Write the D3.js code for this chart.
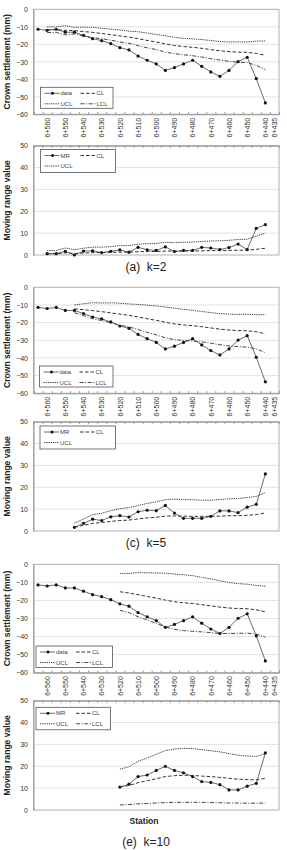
<!DOCTYPE html>
<html>
<head>
<meta charset="utf-8">
<script src="https://cdn.jsdelivr.net/npm/d3@7"></script>
<style>
	body { margin: 0; background: #fff; }
	svg { display: block; font-family: "Liberation Sans", Arial, sans-serif; }
</style>
</head>
<body>
<svg id="chart" width="287" height="850"></svg>
<script>
// stations along the tunnel, every 5 m, only some get a label
var stationLabels = ['', '6+560', '', '6+550', '', '6+540', '', '6+530', '', '6+520', '', '6+510', '',
	'6+500', '', '6+490', '', '6+480', '', '6+470', '', '6+460', '', '6+450', '', '6+440', '6+435'];

// measured crown settlement (mm), first 26 stations
var settlement = [-11.4, -12.0, -11.4, -13.1, -13.1, -14.9, -16.8, -17.9, -19.6, -21.9, -23.2, -26.7, -29.1,
	-31.2, -34.9, -33.3, -31.2, -29.1, -32.6, -35.8, -38.3, -34.9, -29.9, -27.4, -39.6, -53.5];

// k = 2 (series start at station index 1)
var cl2 = [-11.7, -11.6, -12.0, -12.2, -12.7, -13.2, -13.8, -14.5, -15.2, -15.9, -16.8, -17.8, -18.7,
	-19.8, -20.7, -21.3, -21.7, -22.3, -23.0, -23.7, -24.2, -24.5, -24.6, -25.2, -26.3];
var ucl2 = [-10.1, -10.0, -9.4, -10.3, -10.2, -10.3, -10.9, -11.3, -11.8, -12.5, -12.8, -13.6, -14.4,
	-15.1, -16.0, -16.6, -16.9, -17.3, -17.8, -18.4, -18.7, -18.6, -18.7, -18.2, -18.1];
var lcl2 = [-13.3, -13.2, -14.6, -14.1, -15.2, -16.2, -16.8, -17.6, -18.7, -19.4, -20.8, -22.0, -23.0,
	-24.5, -25.3, -26.0, -26.5, -27.3, -28.2, -29.0, -29.7, -30.3, -30.4, -32.1, -34.4];
var mr2 = [0.6, 0.6, 1.7, 0.0, 1.8, 1.9, 1.1, 1.7, 2.3, 1.3, 3.5, 2.4, 2.1, 3.7, 1.6, 2.1, 2.1, 3.5, 3.2,
	2.5, 3.4, 5.0, 2.5, 12.2, 13.9];
var mrCl2 = [0.6, 0.6, 1.0, 0.7, 0.9, 1.1, 1.1, 1.2, 1.3, 1.3, 1.5, 1.6, 1.6, 1.8, 1.8, 1.8, 1.8, 1.9, 2.0,
	2.0, 2.1, 2.2, 2.2, 2.6, 3.1];
var mrUcl2 = [2.0, 2.0, 3.2, 2.4, 3.1, 3.6, 3.6, 3.8, 4.3, 4.3, 4.9, 5.2, 5.3, 5.8, 5.7, 5.8, 5.9, 6.2, 6.4,
	6.5, 6.7, 7.1, 7.2, 8.6, 10.0];

// k = 5 (start at index 4)
var cl5 = [-12.2, -12.7, -13.2, -13.8, -14.5, -15.2, -15.9, -16.8, -17.8, -18.7, -19.8, -20.7, -21.3,
	-21.7, -22.3, -23.0, -23.7, -24.2, -24.5, -24.6, -25.2, -26.3];
var ucl5 = [-10.0, -9.3, -8.7, -8.9, -8.8, -9.0, -9.4, -9.7, -10.1, -10.6, -11.1, -11.8, -12.5, -13.0,
	-13.7, -14.3, -14.9, -15.2, -15.4, -15.2, -15.5, -15.5];
var lcl5 = [-14.4, -16.0, -17.8, -18.8, -20.1, -21.4, -22.4, -23.9, -25.5, -26.9, -28.6, -29.6, -30.1,
	-30.4, -30.9, -31.6, -32.5, -33.2, -33.5, -33.9, -34.8, -37.0];
var mr5 = [1.7, 3.5, 5.4, 4.8, 6.5, 7.0, 6.4, 8.8, 9.5, 9.3, 11.7, 8.2, 5.8, 5.8, 5.8, 6.7, 9.2, 9.2, 8.4,
	10.9, 12.2, 26.1];
var mrCl5 = [1.7, 2.6, 3.5, 3.9, 4.4, 4.8, 5.0, 5.5, 6.0, 6.3, 6.8, 6.9, 6.8, 6.7, 6.7, 6.7, 6.8, 7.0, 7.0,
	7.2, 7.5, 8.3];
var mrUcl5 = [3.6, 5.5, 7.5, 8.1, 9.3, 10.2, 10.7, 11.7, 12.6, 13.3, 14.3, 14.6, 14.4, 14.3, 14.1, 14.1,
	14.4, 14.7, 14.9, 15.3, 15.8, 17.6];

// k = 10 (start at index 9)
var cl10 = [-15.2, -15.9, -16.8, -17.8, -18.7, -19.8, -20.7, -21.3, -21.7, -22.3, -23.0, -23.7, -24.2,
	-24.5, -24.6, -25.2, -26.3];
var ucl10 = [-5.0, -5.1, -4.6, -4.7, -4.8, -4.9, -5.4, -5.8, -6.3, -7.2, -8.1, -9.1, -10.1, -10.7, -11.0,
	-11.7, -12.1];
var lcl10 = [-25.4, -26.8, -29.0, -30.8, -32.7, -34.7, -36.0, -36.7, -37.1, -37.4, -37.8, -38.3, -38.3,
	-38.2, -38.1, -38.6, -40.4];
var mr10 = [10.5, 11.8, 15.3, 16.0, 18.1, 20.0, 18.1, 17.0, 15.3, 13.0, 12.6, 11.6, 9.2, 9.2, 10.9, 12.2, 26.1];
var mrCl10 = [10.5, 11.2, 12.5, 13.4, 14.3, 15.3, 15.7, 15.9, 15.8, 15.5, 15.3, 14.9, 14.5, 14.1, 13.9,
	13.8, 14.5];
var mrUcl10 = [18.7, 19.8, 22.3, 23.8, 25.5, 27.2, 27.9, 28.2, 28.1, 27.6, 27.1, 26.6, 25.8, 25.1, 24.7,
	24.5, 25.8];
var mrLcl10 = [2.3, 2.5, 2.8, 3.0, 3.2, 3.4, 3.5, 3.5, 3.5, 3.5, 3.4, 3.3, 3.2, 3.2, 3.1, 3.1, 3.2];

var crownTicks = [0, -10, -20, -30, -40, -50, -60];
var mrTicks = [0, 10, 20, 30, 40, 50];

var styles = {
	data: { stroke: '#6b6b6b', dash: null, marker: true },
	CL: { stroke: '#333', dash: '3.5,2' },
	UCL: { stroke: '#444', dash: '1.3,0.9' },
	LCL: { stroke: '#444', dash: '4,1.6,1,1.6' }
};

var svg = d3.select('#chart');
var left = 33.5, right = 279;

var x = d3.scaleLinear()
	.domain([0, stationLabels.length])
	.range([left, right]);

var drawPanel = function (p) {
	var y = d3.scaleLinear()
		.domain(p.domain)
		.range([p.top, p.bottom]);
	var g = svg.append('g');

	// gridlines
	g.selectAll('line.grid')
		.data(p.ticks.slice(1))
		.enter().append('line')
		.attr('x1', left).attr('x2', right)
		.attr('y1', function (d) { return y(d); })
		.attr('y2', function (d) { return y(d); })
		.attr('stroke', '#dcdcdc')
		.attr('stroke-width', 0.8);

	// frame
	g.append('rect')
		.attr('x', left).attr('y', p.top)
		.attr('width', right - left).attr('height', p.bottom - p.top)
		.attr('fill', 'none')
		.attr('stroke', '#a8a8a8')
		.attr('stroke-width', 0.9);

	// y axis
	var yAxis = g.append('g')
		.attr('transform', 'translate(' + left + ',0)')
		.call(d3.axisLeft(y).tickValues(p.ticks).tickSize(0).tickPadding(5.5));
	yAxis.select('.domain').attr('stroke', '#999');
	yAxis.selectAll('text')
		.attr('fill', '#333')
		.style('font-size', '7px');

	// category ticks at boundaries, inside the frame
	var axisY = p.kind === 'crown' ? p.bottom : p.top;
	var tickAxis = p.kind === 'crown' ? d3.axisTop(x) : d3.axisBottom(x);
	var ticksG = g.append('g')
		.attr('transform', 'translate(0,' + axisY + ')')
		.call(tickAxis.tickValues(d3.range(stationLabels.length + 1)).tickSize(2.2).tickFormat(''));
	ticksG.select('.domain').attr('stroke', '#999');
	ticksG.selectAll('.tick line').attr('stroke', '#999');

	if (p.kind === 'crown') {
		var labelsG = g.append('g')
			.attr('transform', 'translate(0,' + p.bottom + ')')
			.call(d3.axisBottom(x)
				.tickValues(d3.range(stationLabels.length).map(function (i) { return i + 0.5; }))
				.tickSize(0)
				.tickFormat(function (d) { return stationLabels[d - 0.5]; }));
		labelsG.select('.domain').remove();
		labelsG.selectAll('text')
			.attr('transform', 'rotate(-90)')
			.attr('x', -3.5)
			.attr('y', 0)
			.attr('dy', '0.32em')
			.attr('text-anchor', 'end')
			.attr('fill', '#333')
			.style('font-size', '7px');
	}

	// series
	p.series.forEach(function (s) {
		var st = styles[s.style];
		var line = d3.line()
			.x(function (d, i) { return x(s.start + i + 0.5); })
			.y(function (d) { return y(d); });
		g.append('path')
			.datum(s.values)
			.attr('d', line)
			.attr('fill', 'none')
			.attr('stroke', st.stroke)
			.attr('stroke-width', 1)
			.attr('stroke-dasharray', st.dash);
		if (st.marker) {
			g.selectAll(null)
				.data(s.values)
				.enter().append('circle')
				.attr('cx', function (d, i) { return x(s.start + i + 0.5); })
				.attr('cy', function (d) { return y(d); })
				.attr('r', 1.6)
				.attr('fill', '#111');
		}
	});

	// legend
	var lg = g.append('g')
		.attr('transform', 'translate(' + p.legend[0] + ',' + p.legend[1] + ')');
	lg.append('rect')
		.attr('width', p.legend[2]).attr('height', p.legend[3])
		.attr('fill', '#fff')
		.attr('stroke', '#555')
		.attr('stroke-width', 0.8);
	p.series.forEach(function (s, i) {
		var st = styles[s.style];
		var col = i % 2, row = Math.floor(i / 2);
		var lx = col === 0 ? 4 : 40;
		var ly = row === 0 ? 6 : 16.5;
		lg.append('line')
			.attr('x1', lx).attr('x2', lx + 15)
			.attr('y1', ly).attr('y2', ly)
			.attr('stroke', st.stroke)
			.attr('stroke-width', 1)
			.attr('stroke-dasharray', st.dash);
		if (st.marker) {
			lg.append('circle')
				.attr('cx', lx + 8).attr('cy', ly).attr('r', 1.5)
				.attr('fill', '#111');
		}
		lg.append('text')
			.attr('x', lx + 16)
			.attr('y', ly)
			.attr('dy', '0.35em')
			.attr('fill', '#444')
			.style('font-size', '6px')
			.text(s.name);
	});

	// axis title
	svg.append('text')
		.attr('transform', 'translate(10,' + ((p.top + p.bottom) / 2) + ') rotate(-90)')
		.attr('text-anchor', 'middle')
		.attr('font-weight', 'bold')
		.attr('fill', '#222')
		.style('font-size', '8.6px')
		.text(p.title);
};

var crownSeries = function (cl, ucl, lcl, start) {
	return [
		{ name: 'data', style: 'data', values: settlement, start: 0 },
		{ name: 'CL', style: 'CL', values: cl, start: start },
		{ name: 'UCL', style: 'UCL', values: ucl, start: start },
		{ name: 'LCL', style: 'LCL', values: lcl, start: start }
	];
};

drawPanel({
	kind: 'crown', top: 9.3, bottom: 114.3, domain: [0, -60], ticks: crownTicks,
	title: 'Crown settlement (mm)', legend: [40.5, 87.3, 72.5, 21],
	series: crownSeries(cl2, ucl2, lcl2, 1)
});
drawPanel({
	kind: 'mr', top: 145.7, bottom: 255, domain: [50, 0], ticks: mrTicks,
	title: 'Moving range value', legend: [40.5, 149.5, 75, 23],
	series: [
		{ name: 'MR', style: 'data', values: mr2, start: 1 },
		{ name: 'CL', style: 'CL', values: mrCl2, start: 1 },
		{ name: 'UCL', style: 'UCL', values: mrUcl2, start: 1 }
	]
});
drawPanel({
	kind: 'crown', top: 287.3, bottom: 393.3, domain: [0, -60], ticks: crownTicks,
	title: 'Crown settlement (mm)', legend: [39.5, 366, 73.5, 21],
	series: crownSeries(cl5, ucl5, lcl5, 4)
});
drawPanel({
	kind: 'mr', top: 421.7, bottom: 531, domain: [50, 0], ticks: mrTicks,
	title: 'Moving range value', legend: [40, 426, 75.5, 23],
	series: [
		{ name: 'MR', style: 'data', values: mr5, start: 4 },
		{ name: 'CL', style: 'CL', values: mrCl5, start: 4 },
		{ name: 'UCL', style: 'UCL', values: mrUcl5, start: 4 }
	]
});
drawPanel({
	kind: 'crown', top: 564.3, bottom: 672.7, domain: [0, -60], ticks: crownTicks,
	title: 'Crown settlement (mm)', legend: [36, 646, 76.5, 21.5],
	series: crownSeries(cl10, ucl10, lcl10, 9)
});
drawPanel({
	kind: 'mr', top: 700.7, bottom: 810, domain: [50, 0], ticks: mrTicks,
	title: 'Moving range value', legend: [36, 707.3, 74.5, 22.5],
	series: [
		{ name: 'MR', style: 'data', values: mr10, start: 9 },
		{ name: 'CL', style: 'CL', values: mrCl10, start: 9 },
		{ name: 'UCL', style: 'UCL', values: mrUcl10, start: 9 },
		{ name: 'LCL', style: 'LCL', values: mrLcl10, start: 9 }
	]
});

// captions
var captions = [['(a)  k=2', 270.5], ['(c)  k=5', 547], ['(e)  k=10', 845.5]];
svg.selectAll('text.caption')
	.data(captions)
	.enter().append('text')
	.attr('class', 'caption')
	.attr('x', 146)
	.attr('y', function (d) { return d[1]; })
	.attr('text-anchor', 'middle')
	.attr('fill', '#222')
	.style('font-size', '12px')
	.style('white-space', 'pre')
	.text(function (d) { return d[0]; });

svg.append('text')
	.attr('x', 144)
	.attr('y', 824)
	.attr('text-anchor', 'middle')
	.attr('font-weight', 'bold')
	.attr('fill', '#222')
	.style('font-size', '8.6px')
	.text('Station');
</script>
</body>
</html>
